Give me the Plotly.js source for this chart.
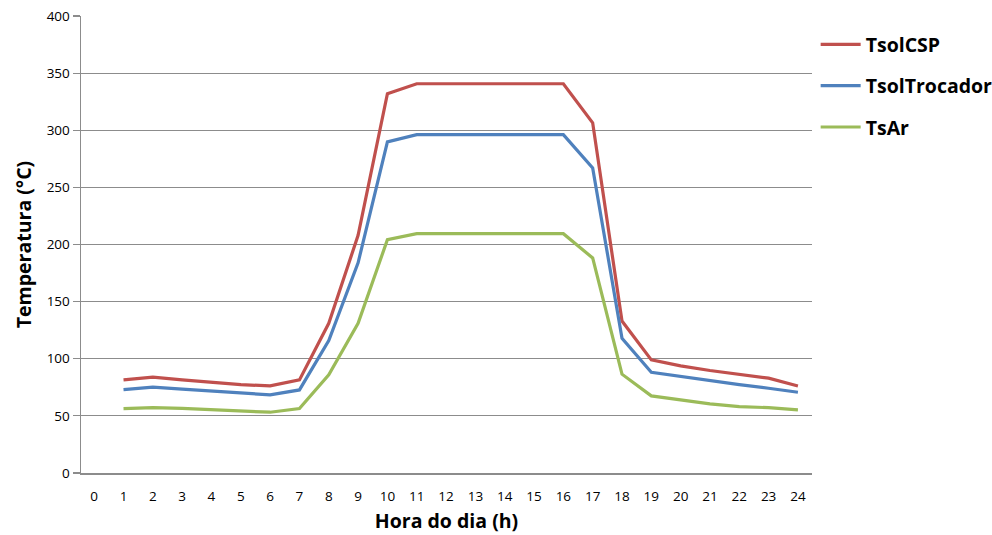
<!DOCTYPE html>
<html>
<head>
<meta charset="utf-8">
<script src="https://cdn.plot.ly/plotly-3.0.1.min.js"></script>
<style>
html,body{margin:0;padding:0;background:#fff;}
#chart{width:992px;height:535px;}
</style>
</head>
<body>
<div id="chart"></div>
<script>
const hours = [1,2,3,4,5,6,7,8,9,10,11,12,13,14,15,16,17,18,19,20,21,22,23,24];
const tickLabels = ["0","1","2","3","4","5","6","7","8","9","10","11","12","13","14","15","16","17","18","19","20","21","22","23","24"];
const tsolCSP = [81.5,83.9,81.5,79.5,77.4,76.2,81.5,131,208,332,340.7,340.7,340.7,340.7,340.7,340.7,306.5,133,99,93.8,89.7,86.5,83,76.2];
const tsolTrocador = [73,75.1,73.5,71.9,69.8,68.4,72.7,116,184,289.8,296.2,296.2,296.2,296.2,296.2,296.2,267,118,88.2,84.4,80.9,77.4,74.2,70.7];
const tsAr = [56.4,57.2,56.5,55.5,54.3,53.2,56.4,85.9,131,204.2,209.5,209.5,209.5,209.5,209.5,209.5,188.2,86.5,67.5,64,60.5,58.1,57.2,55.2];
const seriesNames = ["TsolCSP","TsolTrocador","TsAr"];
const colors = ["#C0504D","#4F81BD","#9BBB59"];
const allSeries = [tsolCSP, tsolTrocador, tsAr];

const font = "'Open Sans', 'Liberation Sans', sans-serif";

const traces = allSeries.map((ys, i) => ({
  x: hours,
  y: ys,
  type: "scatter",
  mode: "lines",
  name: seriesNames[i],
  legendgroup: "g" + i,
  line: {color: colors[i], width: 3.2, shape: "linear"},
  hoverinfo: "x+y+name"
}));

const layout = {
  width: 992,
  height: 535,
  paper_bgcolor: "#ffffff",
  plot_bgcolor: "#ffffff",
  margin: {l: 81, r: 180, t: 16, b: 62, autoexpand: false},
  font: {family: font, color: "#000000", size: 13},
  showlegend: true,
  legend: {
    x: 1.005, xanchor: "left",
    y: 0.98, yanchor: "top",
    font: {family: font, size: 19.5, color: "#000000", weight: "bold"},
    tracegroupgap: 13,
    itemwidth: 40,
    bgcolor: "rgba(0,0,0,0)"
  },
  xaxis: {
    range: [-0.45, 24.48],
    tickmode: "array",
    tickvals: tickLabels.map((t) => Number(t)),
    ticktext: tickLabels,
    showgrid: false,
    zeroline: false,
    showline: true,
    linecolor: "#8c8c8c",
    linewidth: 1.5,
    ticks: "",
    ticklabelstandoff: 10,
    tickfont: {family: font, size: 13.5, color: "#000000"},
    title: {text: "Hora do dia (h)", font: {family: font, size: 19.5, color: "#000000", weight: "bold"}, standoff: 10},
    fixedrange: true
  },
  yaxis: {
    range: [0, 400],
    dtick: 50,
    tick0: 0,
    showgrid: true,
    gridcolor: "#8c8c8c",
    gridwidth: 1.2,
    zeroline: false,
    showline: true,
    linecolor: "#8c8c8c",
    linewidth: 1.5,
    ticks: "outside",
    ticklen: 7,
    tickcolor: "#8c8c8c",
    tickwidth: 1.2,
    tickfont: {family: font, size: 13.5, color: "#000000"},
    title: {text: "Temperatura (°C)", font: {family: font, size: 19.5, color: "#000000", weight: "bold"}, standoff: 10},
    fixedrange: true
  }
};

Plotly.newPlot("chart", traces, layout, {displayModeBar: false, staticPlot: true});
</script>
</body>
</html>
